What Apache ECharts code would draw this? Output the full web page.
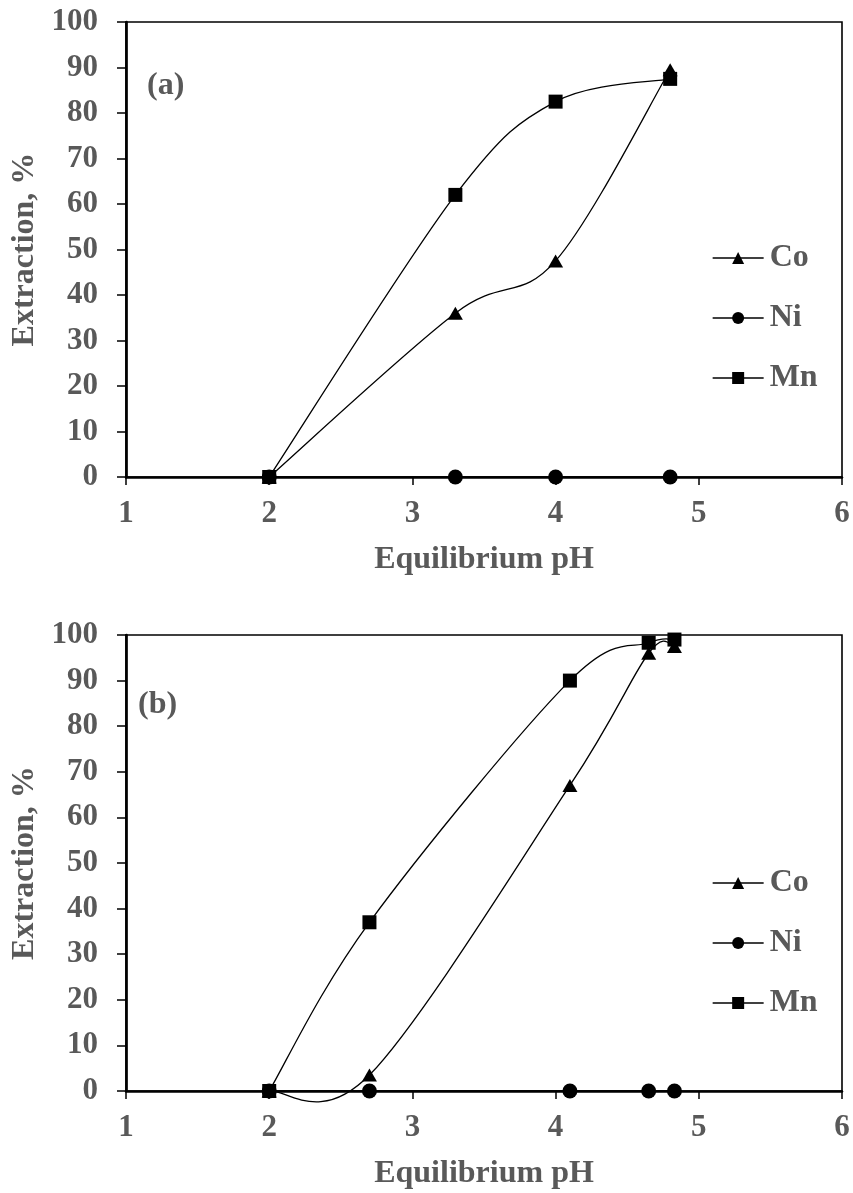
<!DOCTYPE html>
<html>
<head>
<meta charset="utf-8">
<script src="https://cdn.jsdelivr.net/npm/echarts@6/dist/echarts.min.js"></script>
<style>
html,body{margin:0;padding:0;background:#fff;}
#c{width:853px;height:1193px;}
</style>
</head>
<body>
<div id="c"></div>
<script>
// ---- data ----
const seriesNames = ['Co', 'Ni', 'Mn'];
const xTicks = [1, 2, 3, 4, 5, 6];
const yTicks = [0, 10, 20, 30, 40, 50, 60, 70, 80, 90, 100];

// panel (a)
const phA = [2, 3.3, 4, 4.8];
const coA = [0, 36, 47.5, 89.5];
const niA = [0, 0, 0, 0];
const mnA = [0, 62, 82.5, 87.5];

// panel (b)
const phB = [2, 2.7, 4.1, 4.65, 4.83];
const coB = [0, 3.5, 67, 96, 97.5];
const niB = [0, 0, 0, 0, 0];
const mnB = [0, 37, 90, 98.3, 99];

const panelLabels = ['(a)', '(b)'];
const xTitle = 'Equilibrium pH';
const yTitle = 'Extraction, %';

// ---- styling ----
const FONT = 'Liberation Serif';
const GRAY = '#595959';
const symbols = { Co: 'triangle', Ni: 'circle', Mn: 'rect' };
const symSizes = { Co: [15, 13], Ni: 15, Mn: 14 };

function pairs(xs, ys) { return xs.map((x, i) => [x, ys[i]]); }

const grids = [
  { left: 126, right: 11, top: 22, height: 455 },
  { left: 126, right: 11, top: 635, height: 456 }
];

function xAxis(gi) {
  return {
    gridIndex: gi, type: 'value', min: xTicks[0], max: xTicks[xTicks.length - 1], interval: 1,
    name: xTitle, nameLocation: 'middle', nameGap: 67,
    nameTextStyle: { fontFamily: FONT, fontWeight: 'bold', fontSize: 32, color: GRAY },
    axisLine: { show: true, onZero: false, lineStyle: { color: '#000', width: 2.5 } },
    axisTick: { show: true, inside: false, length: 8, lineStyle: { color: '#000', width: 1.5 } },
    axisLabel: { margin: 21, fontFamily: FONT, fontWeight: 'bold', fontSize: 31, color: GRAY },
    splitLine: { show: false }
  };
}
function yAxis(gi) {
  return {
    gridIndex: gi, type: 'value', min: yTicks[0], max: yTicks[yTicks.length - 1], interval: 10,
    name: yTitle, nameLocation: 'middle', nameGap: 84, nameRotate: 90,
    nameTextStyle: { fontFamily: FONT, fontWeight: 'bold', fontSize: 32, color: GRAY },
    axisLine: { show: true, onZero: false, lineStyle: { color: '#000', width: 2.7 } },
    axisTick: { show: true, inside: false, length: 9, lineStyle: { color: '#000', width: 1.5 } },
    axisLabel: { margin: 28, fontFamily: FONT, fontWeight: 'bold', fontSize: 31, color: GRAY },
    splitLine: { show: false }
  };
}

// Excel-like smoothed curve (Catmull-Rom, tension 1/6) drawn in pixel space via the axes
function curveSeries(name, data, gi) {
  return {
    name: name + ' curve', type: 'custom', xAxisIndex: gi, yAxisIndex: gi,
    data: data, z: 1, clip: false, silent: true,
    encode: { x: 0, y: 1 },
    renderItem: function (params, api) {
      if (params.dataIndexInside !== 0) return null;
      const n = params.dataInsideLength;
      const P = [];
      for (let i = 0; i < n; i++) P.push(api.coord([api.value(0, i), api.value(1, i)]));
      let d = 'M' + P[0][0] + ' ' + P[0][1];
      for (let i = 0; i < n - 1; i++) {
        const p0 = P[Math.max(i - 1, 0)], p1 = P[i], p2 = P[i + 1], p3 = P[Math.min(i + 2, n - 1)];
        const c1 = [p1[0] + (p2[0] - p0[0]) / 6, p1[1] + (p2[1] - p0[1]) / 6];
        const c2 = [p2[0] - (p3[0] - p1[0]) / 6, p2[1] - (p3[1] - p1[1]) / 6];
        d += ' C' + c1[0] + ' ' + c1[1] + ' ' + c2[0] + ' ' + c2[1] + ' ' + p2[0] + ' ' + p2[1];
      }
      return { type: 'path', shape: { pathData: d }, style: { stroke: '#000', lineWidth: 1.3, fill: null } };
    }
  };
}

function markerSeries(name, data, gi) {
  return {
    name: name, type: 'line', xAxisIndex: gi, yAxisIndex: gi,
    data: data, z: 3,
    symbol: symbols[name], symbolSize: symSizes[name], showAllSymbol: true,
    lineStyle: { color: '#000', width: 1.3, opacity: 0 },
    itemStyle: { color: '#000', borderColor: '#000', borderWidth: 0 },
    emphasis: { disabled: true },
    animation: false, clip: false
  };
}

const panels = [
  { gi: 0, x: phA, Co: coA, Ni: niA, Mn: mnA },
  { gi: 1, x: phB, Co: coB, Ni: niB, Mn: mnB }
];
const series = [];
panels.forEach(p => {
  seriesNames.forEach(nm => series.push(curveSeries(nm, pairs(p.x, p[nm]), p.gi)));
});
panels.forEach(p => {
  seriesNames.forEach(nm => series.push(markerSeries(nm, pairs(p.x, p[nm]), p.gi)));
});

function legend(top) {
  return {
    data: seriesNames, orient: 'vertical', left: 712, top: top,
    itemWidth: 51, itemHeight: 15, itemGap: 28, padding: 0, selectedMode: false,
    lineStyle: { color: '#000', width: 1.3, opacity: 1, type: 'solid' },
    textStyle: { fontFamily: FONT, fontWeight: 'bold', fontSize: 32, color: GRAY, lineHeight: 32, padding: [0, 0, 0, 1] }
  };
}

const chart = echarts.init(document.getElementById('c'), null, { renderer: 'canvas' });
chart.setOption({
  animation: false,
  backgroundColor: '#fff',
  grid: grids.map(g => Object.assign({ show: true, borderColor: '#000', borderWidth: 1.6, backgroundColor: 'transparent' }, g)),
  xAxis: [xAxis(0), xAxis(1)],
  yAxis: [yAxis(0), yAxis(1)],
  legend: [legend(242), legend(867)],
  title: [
    { text: panelLabels[0], left: 147, top: 70, padding: 0, textStyle: { fontFamily: FONT, fontWeight: 'bold', fontSize: 32, color: GRAY } },
    { text: panelLabels[1], left: 138, top: 689, padding: 0, textStyle: { fontFamily: FONT, fontWeight: 'bold', fontSize: 32, color: GRAY } }
  ],
  series: series
});
</script>
</body>
</html>
